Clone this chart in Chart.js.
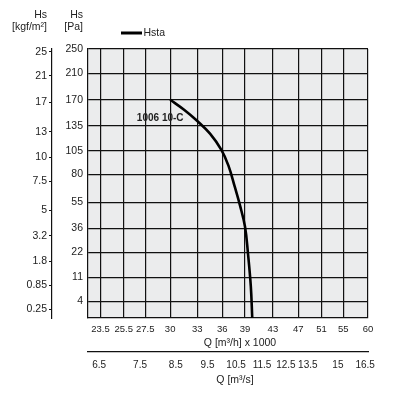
<!DOCTYPE html>
<html>
<head>
<meta charset="utf-8">
<script src="https://cdn.jsdelivr.net/npm/chart.js@4/dist/chart.umd.min.js"></script>
<style>
  html, body { margin: 0; padding: 0; background: #fff; }
  #wrap { width: 395px; height: 393px; }
</style>
</head>
<body>
<div id="wrap"><canvas id="fanChart" width="395" height="393"></canvas></div>
<script>
// tick labels (Q in m3/h x 1000, Q in m3/s, Hs in Pa and kgf/m2)
const qTicks = [23.5, 25.5, 27.5, 30, 33, 36, 39, 43, 47, 51, 55, 60];
const qsTicks = [6.5, 7.5, 8.5, 9.5, 10.5, 11.5, 12.5, 13.5, 15, 16.5];
const paTicks = [250, 210, 170, 135, 105, 80, 55, 36, 22, 11, 4];
const kgfTicks = [25, 21, 17, 13, 10, 7.5, 5, 3.2, 1.8, 0.85, 0.25];

// curve "1006 10-C" (Hsta)
const flowQ = [30, 31.5, 33.0, 34.5, 35.9, 36.8, 37.6, 38.3, 39.0, 39.4, 39.8, 40.0];
const pressurePa = [170, 156, 141, 125, 106, 89, 69, 53, 37, 21.6, 8, 1.2];

const curveName = '1006 10-C';
const labelAt = { q: 26.7, pa: 144 };

const FONT = "'Liberation Sans', Arial, sans-serif";
const INK = '#222';
const LINE = '#111';

const sq = v => Math.sqrt(v); // Hs axis is drawn on a square-root scale
const KGF = 9.80665;

const bgPlugin = {
    id: 'plotBg',
    beforeDraw(chart) {
        const a = chart.chartArea;
        const ctx = chart.ctx;
        ctx.save();
        ctx.fillStyle = '#ebeced';
        ctx.fillRect(a.left, a.top, a.right - a.left, a.bottom - a.top);
        ctx.restore();
    }
};

const textPlugin = {
    id: 'texts',
    afterDraw(chart) {
        const ctx = chart.ctx;
        const x = chart.scales.x, y = chart.scales.y;
        ctx.save();
        ctx.fillStyle = INK;
        ctx.textBaseline = 'middle';

        // axis headers
        ctx.font = '10.5px ' + FONT;
        ctx.textAlign = 'right';
        ctx.fillText('Hs', 47, 15.5);
        ctx.fillText('[kgf/m²]', 47, 27);
        ctx.fillText('Hs', 83, 15.5);
        ctx.fillText('[Pa]', 83, 27);

        // legend
        ctx.strokeStyle = '#000';
        ctx.lineWidth = 3;
        ctx.beginPath();
        ctx.moveTo(121, 33);
        ctx.lineTo(142, 33);
        ctx.stroke();
        ctx.textAlign = 'left';
        ctx.fillText(chart.data.datasets[0].label, 143.5, 33);

        // x titles
        ctx.textAlign = 'center';
        ctx.fillText('Q [m³/h] x 1000', 240, 343);
        ctx.fillText('Q [m³/s]', 235, 380);

        // curve name
        ctx.font = 'bold 10px ' + FONT;
        ctx.textAlign = 'left';
        ctx.fillText(curveName, x.getPixelForValue(labelAt.q), y.getPixelForValue(sq(labelAt.pa)));
        ctx.restore();
    }
};

const ctx = document.getElementById('fanChart').getContext('2d');
new Chart(ctx, {
    type: 'line',
    data: {
        datasets: [{
            label: 'Hsta',
            data: flowQ.map((q, i) => ({ x: q, y: sq(pressurePa[i]) })),
            borderColor: '#000',
            borderWidth: 2.6,
            pointRadius: 0,
            fill: false,
            tension: 0.4
        }]
    },
    options: {
        responsive: false,
        animation: false,
        layout: { padding: { top: 49, right: 27, left: 0, bottom: 0 } },
        plugins: { legend: { display: false }, tooltip: { enabled: false } },
        scales: {
            x: {
                type: 'logarithmic',
                position: 'bottom',
                weight: 0,
                min: 22.5,
                max: 60,
                grid: { color: LINE, lineWidth: 1.2, drawTicks: false },
                border: { color: LINE, width: 1.2 },
                ticks: {
                    autoSkip: false, maxRotation: 0, padding: 6, color: INK,
                    font: { family: FONT, size: 9.5 },
                    callback: (v, i) => String(qTicks[i])
                },
                afterBuildTicks: s => { s.ticks = qTicks.map(v => ({ value: v })); },
                afterFit: s => { s.height = 34; }
            },
            x2: {
                type: 'logarithmic',
                position: 'bottom',
                weight: 1,
                min: 22.5 / 3.6,
                max: 60 / 3.6,
                grid: { display: false, drawTicks: false },
                border: { color: LINE, width: 1.2 },
                ticks: {
                    autoSkip: false, maxRotation: 0, padding: 7, color: INK,
                    font: { family: FONT, size: 10 },
                    callback: (v, i) => String(qsTicks[i])
                },
                afterBuildTicks: s => { s.ticks = qsTicks.map(v => ({ value: v })); },
                afterFit: s => { s.height = 41; }
            },
            y: {
                type: 'linear',
                position: 'left',
                weight: 0,
                min: sq(1.2),
                max: sq(250),
                grid: { color: LINE, lineWidth: 1.2, drawTicks: false },
                border: { color: LINE, width: 1.2 },
                ticks: {
                    autoSkip: false, padding: 5, color: INK,
                    font: { family: FONT, size: 10.5 },
                    callback: (v, i) => String(paTicks[i])
                },
                afterBuildTicks: s => { s.ticks = paTicks.map(v => ({ value: sq(v) })); },
                afterFit: s => { s.width = 36; }
            },
            y2: {
                type: 'linear',
                position: 'left',
                weight: 1,
                min: sq(1.2),
                max: sq(250),
                grid: { drawOnChartArea: false, color: LINE, tickLength: 3 },
                border: { color: LINE, width: 1.2 },
                ticks: {
                    autoSkip: false, padding: 2, color: INK,
                    font: { family: FONT, size: 10.5 },
                    callback: (v, i) => String(kgfTicks[i])
                },
                afterBuildTicks: s => { s.ticks = kgfTicks.map(v => ({ value: sq(v * KGF) })); },
                afterFit: s => { s.width = 52; }
            }
        }
    },
    plugins: [bgPlugin, textPlugin]
});
</script>
</body>
</html>
